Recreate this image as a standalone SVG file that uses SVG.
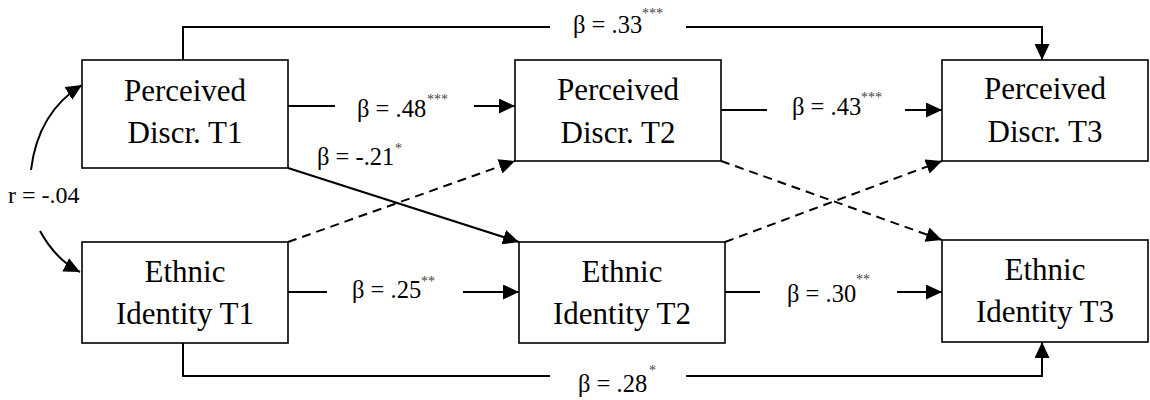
<svg xmlns="http://www.w3.org/2000/svg" width="1150" height="400" viewBox="0 0 1150 400">
<defs>
<marker id="ah" markerUnits="userSpaceOnUse" markerWidth="16" markerHeight="15" refX="16" refY="7.5" orient="auto">
<path d="M0,0 L16,7.5 L0,15 z" fill="#000"/>
</marker>
</defs>
<rect width="1150" height="400" fill="#fff"/>
<g id="connectors" fill="none" stroke="#000" stroke-width="2">
<path d="M183,60 V27 H550"/>
<path d="M686,27 H1042 V60" marker-end="url(#ah)"/>
<path d="M183,343 V376 H550"/>
<path d="M686,376 H1042 V342" marker-end="url(#ah)"/>
<path d="M288,106 H335"/>
<path d="M474,106 H515" marker-end="url(#ah)"/>
<path d="M721,110 H767"/>
<path d="M905,110 H942" marker-end="url(#ah)"/>
<path d="M288,292 H327"/>
<path d="M463,292 H519" marker-end="url(#ah)"/>
<path d="M725,292 H760"/>
<path d="M897,292 H942" marker-end="url(#ah)"/>
<path d="M288,168 L519,242" marker-end="url(#ah)"/>
<path d="M288,242 L515,161" stroke-dasharray="9 6" marker-end="url(#ah)"/>
<path d="M721,161 L942,240" stroke-dasharray="9 6" marker-end="url(#ah)"/>
<path d="M725,242 L942,161" stroke-dasharray="9 6" marker-end="url(#ah)"/>
<path d="M31,170 Q38,112 82,85" marker-end="url(#ah)"/>
<path d="M40,231 Q56,260 80,272" marker-end="url(#ah)"/>
</g>
<g id="labels">
<text x="573" y="33" font-family="Liberation Serif" font-size="24.5">β = .33</text><text x="642" y="18" font-family="Liberation Serif" font-size="14" fill="#444">***</text>
<text x="357" y="117" font-family="Liberation Serif" font-size="24.5">β = .48</text><text x="427" y="104" font-family="Liberation Serif" font-size="14" fill="#444">***</text>
<text x="792" y="115" font-family="Liberation Serif" font-size="24.5">β = .43</text><text x="861" y="102" font-family="Liberation Serif" font-size="14" fill="#444">***</text>
<text x="317" y="165" font-family="Liberation Serif" font-size="24.5">β = -.21</text><text x="395" y="153" font-family="Liberation Serif" font-size="14" fill="#444">*</text>
<text x="352" y="298" font-family="Liberation Serif" font-size="24.5">β = .25</text><text x="421" y="286" font-family="Liberation Serif" font-size="14" fill="#444">**</text>
<text x="787" y="302" font-family="Liberation Serif" font-size="24.5">β = .30</text><text x="856" y="284" font-family="Liberation Serif" font-size="14" fill="#444">**</text>
<text x="578" y="392" font-family="Liberation Serif" font-size="24.5">β = .28</text><text x="649" y="375" font-family="Liberation Serif" font-size="14" fill="#444">*</text>
<text x="8" y="203" font-family="Liberation Serif" font-size="24">r = -.04</text>
</g>
<g id="pd1"><rect x="82" y="60" width="206" height="108" fill="#fff" stroke="#000" stroke-width="1.6"/><text x="185" y="101" font-family="Liberation Serif" font-size="31" text-anchor="middle">Perceived</text><text x="185" y="143" font-family="Liberation Serif" font-size="31" text-anchor="middle">Discr. T1</text></g>
<g id="ei1"><rect x="82" y="242" width="206" height="101" fill="#fff" stroke="#000" stroke-width="1.6"/><text x="185" y="282" font-family="Liberation Serif" font-size="31" text-anchor="middle">Ethnic</text><text x="185" y="324" font-family="Liberation Serif" font-size="31" text-anchor="middle">Identity T1</text></g>
<g id="pd2"><rect x="515" y="60" width="206" height="101" fill="#fff" stroke="#000" stroke-width="1.6"/><text x="618" y="100" font-family="Liberation Serif" font-size="31" text-anchor="middle">Perceived</text><text x="618" y="143" font-family="Liberation Serif" font-size="31" text-anchor="middle">Discr. T2</text></g>
<g id="ei2"><rect x="519" y="242" width="206" height="101" fill="#fff" stroke="#000" stroke-width="1.6"/><text x="622" y="282" font-family="Liberation Serif" font-size="31" text-anchor="middle">Ethnic</text><text x="622" y="324" font-family="Liberation Serif" font-size="31" text-anchor="middle">Identity T2</text></g>
<g id="pd3"><rect x="942" y="60" width="206" height="101" fill="#fff" stroke="#000" stroke-width="1.6"/><text x="1045" y="99" font-family="Liberation Serif" font-size="31" text-anchor="middle">Perceived</text><text x="1045" y="142" font-family="Liberation Serif" font-size="31" text-anchor="middle">Discr. T3</text></g>
<g id="ei3"><rect x="942" y="240" width="206" height="102" fill="#fff" stroke="#000" stroke-width="1.6"/><text x="1045" y="280" font-family="Liberation Serif" font-size="31" text-anchor="middle">Ethnic</text><text x="1045" y="322" font-family="Liberation Serif" font-size="31" text-anchor="middle">Identity T3</text></g>
</svg>
